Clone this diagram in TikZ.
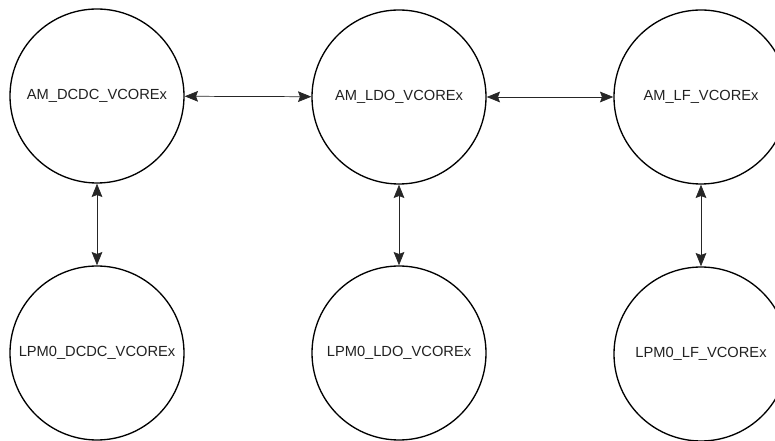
\documentclass[tikz,border=0pt]{standalone}
\usepackage{fontspec}
\setmainfont{Liberation Sans}
\usepackage{tikz}
\usetikzlibrary{arrows.meta}
\definecolor{txt}{rgb}{.13,.13,.13}
\tikzstyle{state}=[circle, draw=black, line width=1pt, minimum size=130.5pt, inner sep=0pt, text=txt, font=\fontsize{11}{13}\selectfont]
\tikzstyle{link}=[line width=.55pt, draw=black!85, {Stealth[length=10pt,width=8pt,inset=1.5pt]}-{Stealth[length=10pt,width=8pt,inset=1.5pt]}]

\begin{document}
\begin{tikzpicture}[x=.75pt, y=-.75pt]

      \useasboundingbox (0,0) rectangle (775,441);

      % top row
      \node[state] (amdcdc) at (97 ,96) {AM\_DCDC\_VCOREx};
      \node[state] (amldo)  at (399,97) {AM\_LDO\_VCOREx};
      \node[state] (amlf)   at (701,97) {AM\_LF\_VCOREx};

      % bottom row
      \node[state] (lpmdcdc) at (97 ,353) {LPM0\_DCDC\_VCOREx};
      \node[state] (lpmldo)  at (399,353) {LPM0\_LDO\_VCOREx};
      \node[state] (lpmlf)   at (701,354) {LPM0\_LF\_VCOREx};

      \draw[link] (amdcdc) -- (amldo);
      \draw[link] (amldo) -- (amlf);

      \foreach \p in {dcdc, ldo, lf}
        \draw[link] (am\p) -- (lpm\p);

\end{tikzpicture}
\end{document}
